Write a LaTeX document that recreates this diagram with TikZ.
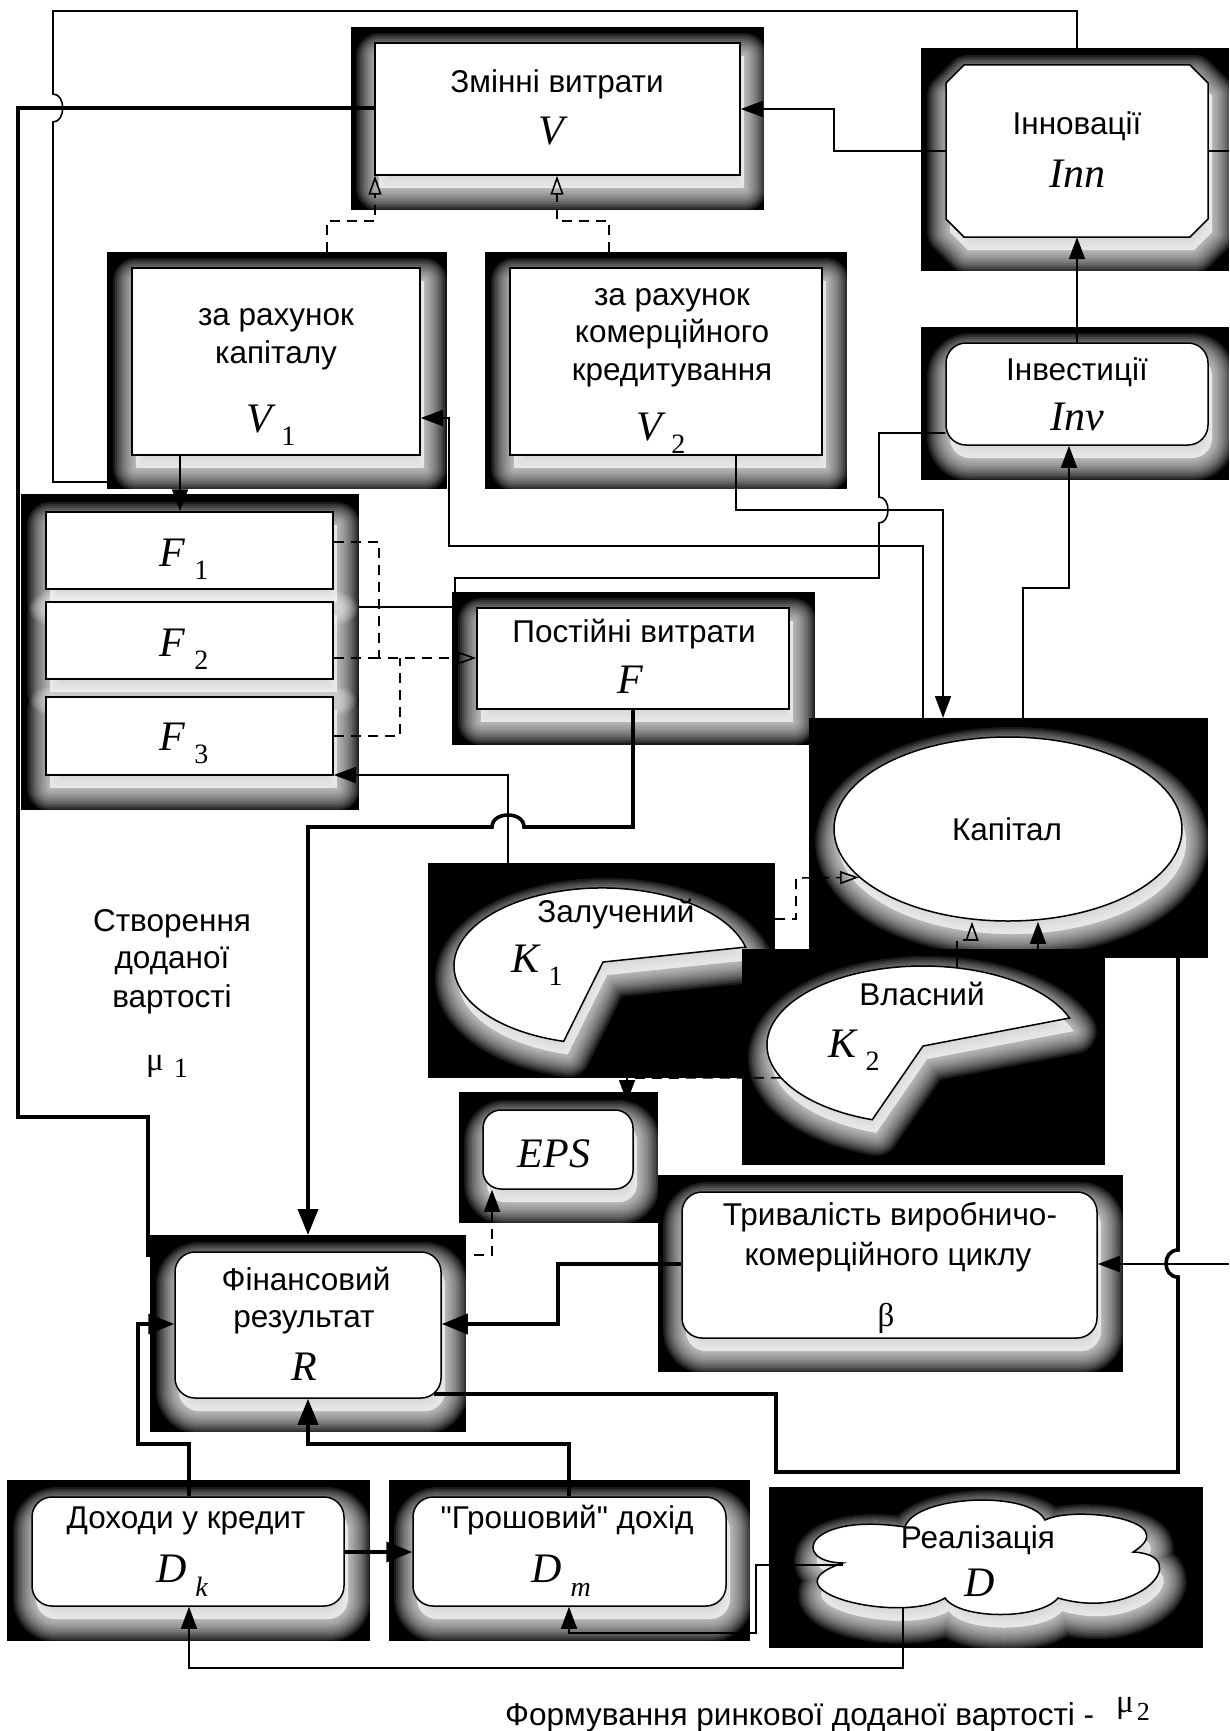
\documentclass[tikz,border=0pt]{standalone}
\usepackage{fontspec}
\setmainfont{Liberation Sans}
\newfontfamily\tnr{Liberation Serif}
\usetikzlibrary{arrows.meta,shapes.geometric}

\newcommand\sbs[1]{\hspace{9pt}\raisebox{-13pt}{\fontsize{28}{28}\upshape #1}}
\newcommand\sbi[1]{\hspace{9pt}\raisebox{-14pt}{\fontsize{28}{28}\itshape #1}}
\newcommand\qd{\XeTeXglyph\XeTeXglyphindex "quotedbl"\relax}

\tikzset{
  blk/.style={fill=black, draw=none, inner sep=0, outer sep=0},
  txt/.style={font=\fontsize{31.5}{37}\selectfont, inner sep=0, anchor=base},
  mth/.style={font=\tnr\itshape\fontsize{42}{44}\selectfont, inner sep=0, anchor=base},
  grk/.style={font=\tnr\fontsize{33}{33}\selectfont, inner sep=0, anchor=base},
  ln/.style={line width=1.6pt},
  lk/.style={line width=3.6pt},
  dsh/.style={line width=1.6pt, dash pattern=on 10pt off 7pt},
  arr/.style={-{Triangle[length=22pt,width=16pt]}},
  barr/.style={-{Triangle[length=26pt,width=20pt]}},
  oarr/.style={-{Triangle[open,length=19pt,width=13pt]}},
  rectsh/.style={rectangle},
  rndsh/.style={rectangle, rounded corners=20pt},
  glowlayer/.style={fill=white, draw=white, line join=round, opacity=0.1},
}

% black box: name, x1, y1, x2, y2
\newcommand\bbox[5]{\node[blk, anchor=north west, minimum width={#4-#2}, minimum height={#5-#3}] (#1) at (#2,#3) {};}
% glowing white shape node: name, style, cx, cy, w, h, box
\newcommand\gshape[7]{%
  \begin{scope}
    \clip (#7.north west) rectangle (#7.south east);
    \foreach \w in {46,42,...,2}{\node[#2, minimum width=#5, minimum height=#6, inner sep=0, glowlayer, line width=\w pt] at (#3+4,#4+13) {};}
  \end{scope}
  \node[#2, minimum width=#5, minimum height=#6, inner sep=0, fill=white, draw=black, line width=1.5pt] (#1) at (#3,#4) {};
}
% glowing white path: box, path
\newcommand\gpath[2]{%
  \begin{scope}
    \clip (#1.north west) rectangle (#1.south east);
    \foreach \w in {46,42,...,2}{\path[glowlayer, line width=\w pt, shift={(4,13)}] #2;}
  \end{scope}
  \path[fill=white, draw=black, line width=1.5pt] #2;
}

\begin{document}
\begin{tikzpicture}[x=1pt,y=-1pt]
\useasboundingbox (0,0) rectangle (1229,1731);
\fill[white] (0,0) rectangle (1229,1731);

% ---------------- boxes ----------------
\bbox{Vb}{351}{27}{764}{210}
\gshape{V}{rectsh}{557.5}{109}{365}{132}{Vb}

\bbox{V1b}{107}{252}{447}{489}
\gshape{V1}{rectsh}{276}{361.5}{288}{187}{V1b}

\bbox{V2b}{485}{252}{847}{489}
\gshape{V2}{rectsh}{666}{361.5}{312}{187}{V2b}

\bbox{Innb}{921}{48}{1229}{271}
\gpath{Innb}{(964,65) -- (1190,65) -- (1208,83) -- (1208,219) -- (1190,237) -- (964,237) -- (946,219) -- (946,83) -- cycle}
\node[inner sep=0, minimum width=262, minimum height=172] (Inn) at (1077,151) {};

\bbox{Invb}{921}{327}{1229}{480}
\gshape{Inv}{rndsh}{1077}{394}{262}{102}{Invb}

\bbox{Fgb}{21}{494}{359}{810}
\gshape{F1}{rectsh}{189.5}{550.5}{287}{77}{Fgb}
\gshape{F2}{rectsh}{189.5}{640.5}{287}{77}{Fgb}
\gshape{F3}{rectsh}{189.5}{736}{287}{78}{Fgb}

\bbox{Pb}{452}{592}{815}{745}
\gshape{P}{rectsh}{633}{658.5}{312}{101}{Pb}

\bbox{Kapb}{809}{718}{1208}{958}
\gshape{Kap}{ellipse}{1008}{829}{348}{184}{Kapb}

\bbox{K1b}{428}{863}{775}{1078}
\gpath{K1b}{(603,962) -- (745.6,947.1) arc[start angle=346, end angle=105, x radius=148, y radius=78] -- cycle}
\node[ellipse, inner sep=0, minimum width=296, minimum height=156] (K1) at (602,966) {};

\bbox{K2b}{742}{949}{1105}{1165}
\gpath{K2b}{(923,1046) -- (1069.6,1018) arc[start angle=340, end angle=109, x radius=156, y radius=79] -- cycle}
\node[ellipse, inner sep=0, minimum width=312, minimum height=158] (K2) at (923,1045) {};

\bbox{EPSb}{459}{1092}{658}{1223}
\gshape{EPS}{rectsh, rounded corners=18pt}{558}{1149.5}{150}{79}{EPSb}

\bbox{Bb}{658}{1175}{1123}{1372}
\gshape{B}{rndsh}{889.5}{1265}{415}{146}{Bb}

\bbox{Rb}{150}{1235}{466}{1432}
\gshape{R}{rndsh}{308}{1325}{266}{146}{Rb}

\bbox{Dkb}{7}{1480}{370}{1641}
\gshape{Dk}{rndsh}{188}{1551.5}{312}{109}{Dkb}

\bbox{Dmb}{389}{1480}{750}{1641}
\gshape{Dm}{rndsh}{569.5}{1551.5}{313}{109}{Dmb}

\bbox{Db}{769}{1487}{1203}{1648}
\gpath{Db}{(843,1563) .. controls (790,1562) and (805,1512) .. (905,1527)
  .. controls (915,1495) and (1030,1490) .. (1045,1520)
  .. controls (1075,1505) and (1185,1520) .. (1133,1552)
  .. controls (1195,1555) and (1140,1622) .. (1058,1598)
  .. controls (1040,1620) and (960,1620) .. (945,1598)
  .. controls (900,1625) and (760,1590) .. (843,1563) -- cycle}
\node[inner sep=0, minimum width=355, minimum height=103] (D) at (987.5,1556.5) {};

% ---------------- free ends ----------------
\coordinate (c2end) at (148,1257);
\coordinate (epsfrom) at (474,1255);
\coordinate (epstip) at (627,1102);
\coordinate (rcorner) at (434,1394);
\coordinate (rightin) at (1229,1264);
\coordinate (cloudbot) at (903,1607);
\coordinate (cloudleft) at (843,1565);

% ---------------- connectors ----------------
\draw[ln] (Innb.north -| 1077,0) -- (1077,11) -- (53,11) -- (53,94)
  .. controls (66,94) and (66,122) .. (53,122) -- (53,482) -- (V1b.west |- 0,482);
\draw[lk] (V.west |- 0,108) -- (18,108) -- (18,1117) -- (148,1117) -- (c2end);
\draw[ln, arr] (Inn.west |- 0,151) -- (834,151) -- (834,109) -- (V.east |- 0,109);
\draw[ln] (Inn.east |- 0,151) -- (Innb.east |- 0,151);
\draw[dsh, oarr] (V1b.north -| 327,0) -- (327,221) -- (375,221) -- (V.south -| 375,0);
\draw[dsh, oarr] (V2b.north -| 609,0) -- (609,221) -- (557,221) -- (V.south -| 557,0);
\draw[ln, arr] (V1.south -| 180,0) -- (F1.north -| 180,0);
\draw[ln, arr] (Kapb.north -| 923,0) -- (923,546) -- (449,546) -- (449,418) -- (V1.east |- 0,418);
\draw[ln, arr] (V2.south -| 736,0) -- (736,510) -- (943,510) -- (Kapb.north -| 943,0);
\draw[ln] (Inv.west |- 0,433) -- (879,433) -- (879,497)
  .. controls (891,497) and (891,523) .. (879,523) -- (879,578) -- (455,578) -- (Pb.north -| 455,0);
\draw[ln, arr] (Kapb.north -| 1023,0) -- (1023,588) -- (1069,588) -- (Inv.south -| 1069,0);
\draw[ln, arr] (Inv.north) -- (Inn.south);
\draw[ln] (Fgb.east |- 0,607) -- (Pb.west |- 0,607);
\draw[dsh, oarr] (F1.east |- 0,542) -- (379,542) -- (379,658) -- (P.west |- 0,658);
\draw[dsh] (F2.east |- 0,658) -- (379,658);
\draw[dsh] (F3.east |- 0,736) -- (400,736) -- (400,658);
\draw[lk, barr] (P.south -| 633,0) -- (633,827) -- (524,827)
  .. controls (524,811) and (492,811) .. (492,827) -- (308,827) -- (Rb.north -| 308,0);
\draw[ln, arr] (K1b.north -| 508,0) -- (508,775) -- (F3.east |- 0,775);
\draw[dsh, oarr] (K1b.east |- 0,919) -- (796,919) -- (796,878) -- (Kap.198);
\draw[dsh, oarr] (957,968) -- (957,940) -- (972,940) -- (Kap.south -| 972,0);
\draw[ln, arr] (K2.north -| 1038,0) -- (Kap.south -| 1038,0);
\draw[dsh, arr] (K2.193) -- (627,1078) -- (epstip);
\draw[dsh, arr] (epsfrom) -- (492,1255) -- (EPS.south -| 492,0);
\draw[lk] (Kapb.south -| 1178,0) -- (1178,1250)
  .. controls (1162,1250) and (1162,1277) .. (1178,1277) -- (1178,1472) -- (776,1472) -- (776,1394) -- (rcorner);
\draw[ln, arr] (rightin) -- (B.east |- 0,1264);
\draw[lk, barr] (B.west |- 0,1264) -- (558,1264) -- (558,1324) -- (R.east |- 0,1324);
\draw[lk, barr] (Dk.north -| 189,0) -- (189,1444) -- (138,1444) -- (138,1324) -- (R.west |- 0,1324);
\draw[lk, barr] (Dm.north -| 569,0) -- (569,1444) -- (308,1444) -- (R.south -| 308,0);
\draw[lk, barr] (Dk.east |- 0,1552) -- (Dm.west |- 0,1552);
\draw[ln, arr] (cloudbot) -- (903,1668) -- (189,1668) -- (Dk.south -| 189,0);
\draw[ln, arr] (cloudleft) -- (756,1565) -- (756,1633) -- (569,1633) -- (Dm.south -| 569,0);

% ---------------- texts ----------------
\node[txt] (tV) at (557,93) {Змінні витрати};
\node[mth] (mV) at (551,145) {V};
\node[txt] (tV1a) at (276,325) {за рахунок};
\node[txt] (tV1b) at (276,363) {капіталу};
\node[mth] (mV1) at (271,432) {V\sbs{1}};
\node[txt] (tV2a) at (672,305) {за рахунок};
\node[txt] (tV2b) at (672,342) {комерційного};
\node[txt] (tV2c) at (672,380) {кредитування};
\node[mth] (mV2) at (661,440) {V\sbs{2}};
\node[txt] (tInn) at (1077,135) {Інновації};
\node[mth] (mInn) at (1077,188) {Inn};
\node[txt] (tInv) at (1077,380) {Інвестиції};
\node[mth] (mInv) at (1077,430) {Inv};
\node[mth] (mF1) at (184,566) {F\sbs{1}};
\node[mth] (mF2) at (184,656) {F\sbs{2}};
\node[mth] (mF3) at (184,750) {F\sbs{3}};
\node[txt] (tP) at (634,642) {Постійні витрати};
\node[mth] (mP) at (630,693) {F};
\node[txt] (tKap) at (1007,840) {Капітал};
\node[txt] (tK1) at (616,922) {Залучений};
\node[mth] (mK1) at (537,972) {K\sbs{1}};
\node[txt] (tK2) at (922,1005) {Власний};
\node[mth] (mK2) at (854,1057) {K\sbs{2}};
\node[mth] (mEPS) at (554,1167) {EPS};
\node[txt] (tB1) at (890,1225) {Тривалість виробничо-};
\node[txt] (tB2) at (888,1265) {комерційного циклу};
\node[grk] (mB) at (886,1326) {β};
\node[txt] (tR1) at (306,1290) {Фінансовий};
\node[txt] (tR2) at (304,1327) {результат};
\node[mth] (mR) at (304,1380) {R};
\node[txt] (tDk) at (186,1528) {Доходи у кредит};
\node[mth] (mDk) at (182,1582) {D\sbi{k}};
\node[txt] (tDm) at (567,1528) {\qd Грошовий\qd{} дохід};
\node[mth] (mDm) at (561,1582) {D\sbi{m}};
\node[txt] (tD) at (978,1548) {Реалізація};
\node[mth] (mD) at (980,1596) {D};
\node[txt] (tS1) at (172,931) {Створення};
\node[txt] (tS2) at (172,968) {доданої};
\node[txt] (tS3) at (172,1007) {вартості};
\node[grk] (mS) at (167,1070) {μ\hspace{10pt}\raisebox{-7pt}{\fontsize{28}{28}\selectfont 1}};
\node[txt, anchor=base west] (cap) at (505,1725) {Формування ринкової доданої вартості -};
\node[grk, anchor=base west] (capmu) at (1116,1712) {μ\hspace{3pt}\raisebox{-8pt}{\fontsize{26}{26}\selectfont 2}};
\end{tikzpicture}
\end{document}
